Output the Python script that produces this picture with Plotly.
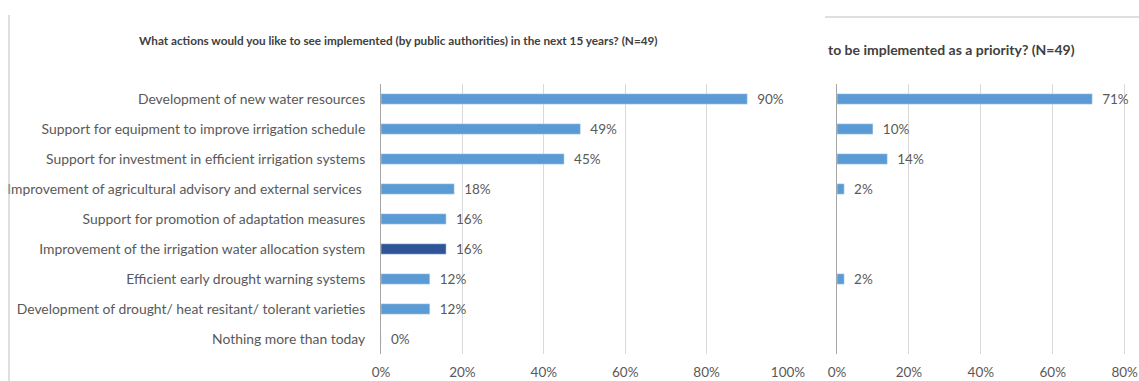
import plotly.graph_objects as go

# Survey answers (N=49), listed top to bottom
actions = [
    "Development of new water resources",
    "Support for equipment to improve irrigation schedule",
    "Support for investment in efficient irrigation systems",
    "Improvement of agricultural advisory and external services ",
    "Support for promotion of adaptation measures",
    "Improvement of the irrigation water allocation system",
    "Efficient early drought warning systems",
    "Development of drought/ heat resitant/ tolerant varieties",
    "Nothing more than today",
]
wanted_pct = [90, 49, 45, 18, 16, 16, 12, 12, 0]
priority_pct = [71, 10, 14, 2, None, None, 2, None, None]

left_title = "What actions would you like to see implemented (by public authorities) in the next 15 years? (N=49)"
right_title = "to be implemented as a priority? (N=49)"

BLUE = "#5B9BD5"
DARK = "#2F5597"
TEXT = "#595959"
GRID = "#D9D9D9"
AXIS = "#A6A6A6"
FONT = "Lato, Open Sans, sans-serif"

highlight = "Improvement of the irrigation water allocation system"
left_colors = [DARK if a == highlight else BLUE for a in actions]

fig = go.Figure()

fig.add_trace(go.Bar(
    y=actions,
    x=[v / 100 for v in wanted_pct],
    orientation="h",
    marker=dict(color=left_colors),
    width=0.35,
    text=[f"  {v}%" for v in wanted_pct],
    textposition="outside",
    constraintext="none",
    textfont=dict(size=13.5, color=TEXT, family=FONT),
    cliponaxis=False,
    xaxis="x", yaxis="y",
    hoverinfo="skip",
))

fig.add_trace(go.Bar(
    y=actions,
    x=[None if v is None else v / 100 for v in priority_pct],
    orientation="h",
    marker=dict(color=BLUE),
    width=0.35,
    text=["" if v is None else f"  {v}%" for v in priority_pct],
    textposition="outside",
    constraintext="none",
    textfont=dict(size=13.5, color=TEXT, family=FONT),
    cliponaxis=False,
    xaxis="x2", yaxis="y2",
    hoverinfo="skip",
))

W, H = 1139, 381
x_left = (381 / W, 788 / W)
x_right = (837 / W, 1.0)
y_dom = (1 - 354 / H, 1 - 84 / H)

axis_common = dict(
    tickformat=".0%",
    showgrid=True, gridcolor=GRID, gridwidth=1,
    zeroline=False, showline=False, automargin=False,
    ticks="", ticklabelstandoff=8, ticklabeloverflow="allow",
    tickfont=dict(size=13.5, color=TEXT, family=FONT),
    fixedrange=True,
)

fig.update_layout(
    width=W, height=H,
    margin=dict(l=0, r=0, t=0, b=0, autoexpand=False),
    paper_bgcolor="white", plot_bgcolor="white",
    showlegend=False,
    font=dict(family=FONT, color=TEXT),
    xaxis=dict(domain=x_left, range=[0, 1.0], tickvals=[0, .2, .4, .6, .8, 1.0],
               anchor="y", **axis_common),
    yaxis=dict(domain=y_dom, autorange="reversed", anchor="x", automargin=False,
               showline=True, linecolor=AXIS, linewidth=1,
               showgrid=False, ticks="", ticklabelstandoff=12,
               ticklabeloverflow="allow",
               tickfont=dict(size=13.9, color=TEXT, family=FONT)),
    xaxis2=dict(domain=x_right, range=[0, 0.84], tickvals=[0, .2, .4, .6, .8],
                anchor="y2", **axis_common),
    yaxis2=dict(domain=y_dom, autorange="reversed", anchor="x2", automargin=False,
                showline=True, linecolor=AXIS, linewidth=1,
                showgrid=False, showticklabels=False, ticks=""),
    shapes=[
        dict(type="line", xref="paper", yref="paper",
             x0=9 / W, x1=9 / W, y0=0, y1=1 - 15 / H,
             line=dict(color="#BFBFBF", width=1)),
        dict(type="line", xref="paper", yref="paper",
             x0=825 / W, x1=1, y0=1 - 17 / H, y1=1 - 17 / H,
             line=dict(color="#BFBFBF", width=1)),
    ],
    annotations=[
        dict(text=f"<b>{left_title}</b>", xref="paper", yref="paper",
             x=398 / W, y=1 - 41 / H, xanchor="center", yanchor="middle",
             showarrow=False, font=dict(size=11.75, color="#404040", family=FONT)),
        dict(text=f"<b>{right_title}</b>", xref="paper", yref="paper",
             x=826 / W, y=1 - 49 / H, xanchor="left", yanchor="middle",
             showarrow=False, font=dict(size=14, color="#404040", family=FONT)),
    ],
)

fig.write_html("out.html")

# Let the fixed-size figure sit flush with the page edges
with open("out.html", encoding="utf-8") as fh:
    page = fh.read()
page = page.replace("<head>", "<head><style>html,body{margin:0;padding:0;overflow:hidden;}</style>", 1)
with open("out.html", "w", encoding="utf-8") as fh:
    fh.write(page)
